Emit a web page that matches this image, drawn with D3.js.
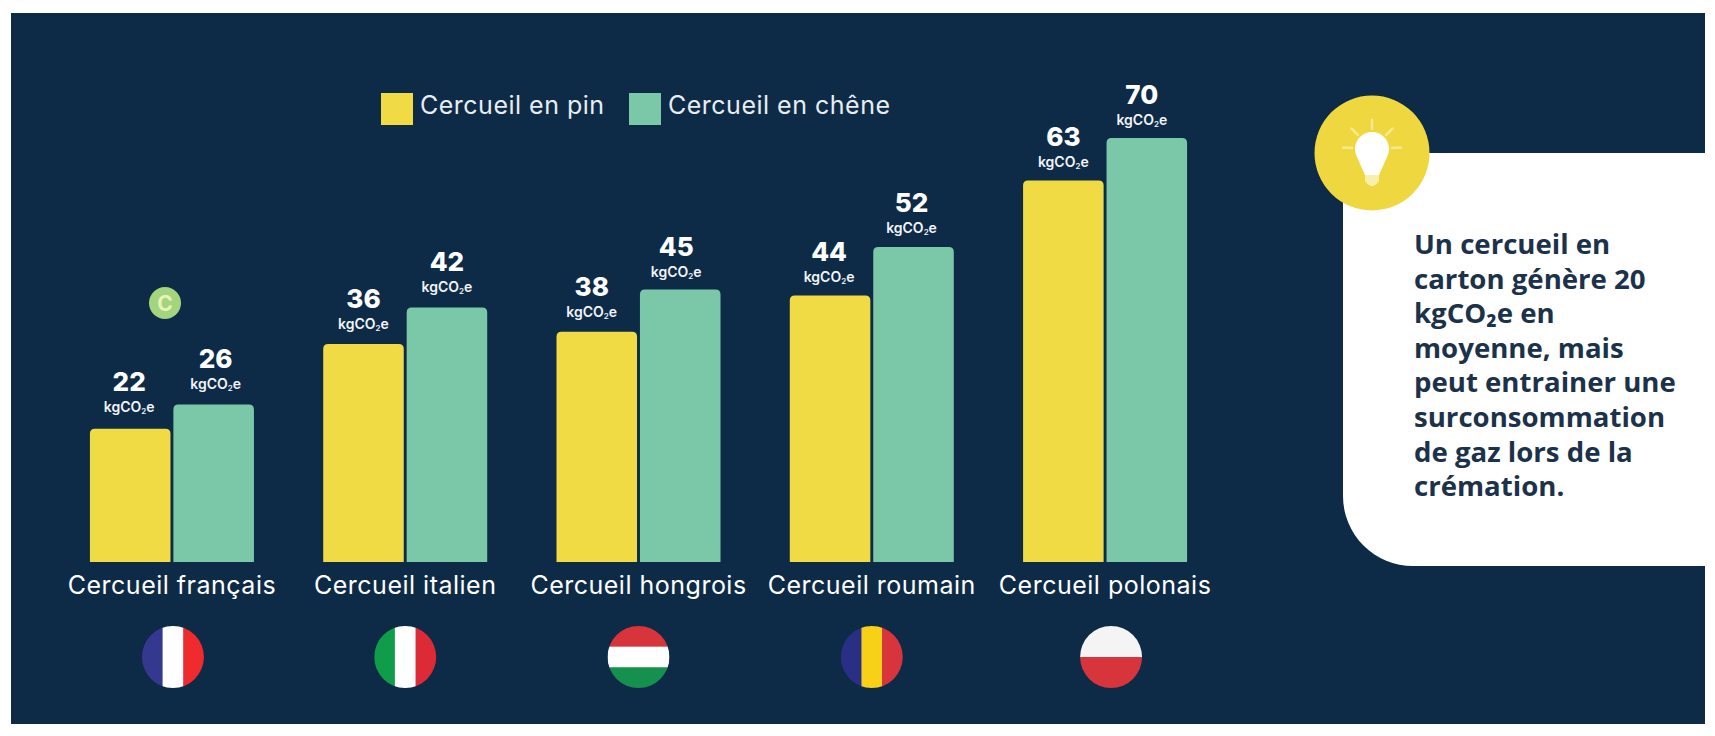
<!DOCTYPE html>
<html>
<head>
<meta charset="utf-8">
<script src="https://cdn.jsdelivr.net/npm/d3@7"></script>
<style>
  html, body { margin: 0; padding: 0; background: #fff; }
  text { font-family: Inter, sans-serif; }
</style>
</head>
<body>
<div id="chart"></div>
<script>
// values in kgCO2e
// off = hand nudges of the value labels [dx, dy], flagDx = nudge of the flag
var data = [
  { label: 'Cercueil français', pin: 22, chene: 26, off: { pin: [-1, -1], chene: [2, 0] }, flagDx: 1,
    flag: { dir: 'v', colors: ['#35388f', '#ffffff', '#ef2b2d'] } },
  { label: 'Cercueil italien', pin: 36, chene: 42, off: { pin: [0, 1], chene: [0, 0] }, flagDx: 0,
    flag: { dir: 'v', colors: ['#0f9d4a', '#ffffff', '#dc2b36'] } },
  { label: 'Cercueil hongrois', pin: 38, chene: 45, off: { pin: [-5, 1], chene: [-4, 4] }, flagDx: 0,
    flag: { dir: 'h', colors: ['#d8343c', '#ffffff', '#15904f'] } },
  { label: 'Cercueil roumain', pin: 44, chene: 52, off: { pin: [-1, 3], chene: [-2, 2] }, flagDx: 0,
    flag: { dir: 'v', colors: ['#2a2f86', '#f7d117', '#d8343c'] } },
  { label: 'Cercueil polonais', pin: 63, chene: 70, off: { pin: [0, 3], chene: [-5, 3] }, flagDx: 6,
    flag: { dir: 'h', colors: ['#f4f4f4', '#d8343c'] } }
];

var keys = ['pin', 'chene'];
var colors = { pin: '#f1db45', chene: '#7bc8a9' };
var navy = '#0d2b47';

var svg = d3.select('#chart').append('svg')
  .attr('width', 1715)
  .attr('height', 736)
  .style('display', 'block');

svg.append('rect').attr('x', 11).attr('y', 13).attr('width', 1694).attr('height', 711).attr('fill', navy);

var x0 = d3.scaleBand()
  .domain(data.map(d => d.label))
  .range([55.4, 1221.6])
  .paddingInner(0.297)
  .paddingOuter(0.148);

var x1 = d3.scaleBand()
  .domain(keys)
  .range([0, x0.bandwidth()])
  .paddingInner(0.035);

var y = d3.scaleLinear().domain([0, 70]).range([562, 138]);

function topRounded(x, yTop, w, yBase, r) {
  var p = d3.path();
  p.moveTo(x, yBase);
  p.lineTo(x, yTop + r);
  p.quadraticCurveTo(x, yTop, x + r, yTop);
  p.lineTo(x + w - r, yTop);
  p.quadraticCurveTo(x + w, yTop, x + w, yTop + r);
  p.lineTo(x + w, yBase);
  p.closePath();
  return p.toString();
}

var groups = svg.selectAll('.group')
  .data(data)
  .enter()
  .append('g')
  .attr('class', 'group')
  .attr('transform', d => `translate(${x0(d.label)},0)`);

keys.forEach(function(k) {
  groups.append('path')
    .attr('d', d => topRounded(x1(k), y(d[k]), x1.bandwidth(), y(0), 5))
    .attr('fill', colors[k]);

  groups.append('text')
    .attr('x', d => x1(k) + x1.bandwidth() / 2 + d.off[k][0])
    .attr('y', d => y(d[k]) - 37 + d.off[k][1])
    .attr('text-anchor', 'middle')
    .attr('fill', '#fff')
    .attr('font-size', 26)
    .attr('font-weight', 800)
    .text(d => d[k]);

  var unit = groups.append('text')
    .attr('x', d => x1(k) + x1.bandwidth() / 2 + d.off[k][0])
    .attr('y', d => y(d[k]) - 16 + d.off[k][1])
    .attr('text-anchor', 'middle')
    .attr('fill', '#f2f4f7')
    .attr('font-size', 14)
    .attr('font-weight', 600);
  unit.append('tspan').text('kgCO');
  unit.append('tspan').attr('font-size', 8).attr('dy', 2).text('2');
  unit.append('tspan').attr('dy', -2).text('e');
});

// country names under the bars
groups.append('text')
  .attr('x', x0.bandwidth() / 2)
  .attr('y', 594)
  .attr('text-anchor', 'middle')
  .attr('fill', '#fff')
  .attr('font-size', 25)
  .attr('letter-spacing', 0.5)
  .text(d => d.label);

// round flags
var flagR = 31, flagY = 657;
var defs = svg.append('defs');
defs.append('clipPath').attr('id', 'flagclip')
  .append('circle').attr('r', flagR);

var flags = groups.append('g')
  .attr('transform', d => `translate(${x0.bandwidth() / 2 + d.flagDx},${flagY})`)
  .attr('clip-path', 'url(#flagclip)');

flags.each(function(d) {
  var n = d.flag.colors.length;
  var s = d3.scaleBand().domain(d3.range(n)).range([-flagR, flagR]);
  d3.select(this).selectAll('rect')
    .data(d.flag.colors)
    .enter()
    .append('rect')
    .attr('x', (c, i) => d.flag.dir == 'v' ? s(i) : -flagR)
    .attr('y', (c, i) => d.flag.dir == 'h' ? s(i) : -flagR)
    .attr('width', d.flag.dir == 'v' ? s.bandwidth() + 0.5 : flagR * 2)
    .attr('height', d.flag.dir == 'h' ? s.bandwidth() + 0.5 : flagR * 2)
    .attr('fill', c => c);
});

// C badge above the french bars
svg.append('circle').attr('cx', 165).attr('cy', 303).attr('r', 16).attr('fill', '#a3d47e');
svg.append('text').attr('x', 165).attr('y', 311).attr('text-anchor', 'middle')
  .attr('fill', '#e8f3b8').attr('font-size', 21).attr('font-weight', 700).text('C');

// legend
var legend = [
  { key: 'pin', label: 'Cercueil en pin', x: 381 },
  { key: 'chene', label: 'Cercueil en chêne', x: 629 }
];
var lg = svg.selectAll('.legend').data(legend).enter().append('g').attr('class', 'legend');
lg.append('rect').attr('x', d => d.x).attr('y', 93).attr('width', 32).attr('height', 32).attr('fill', d => colors[d.key]);
lg.append('text').attr('x', d => d.x + 39).attr('y', 114)
  .attr('fill', '#e8edf2').attr('font-size', 25).attr('letter-spacing', 0.5).text(d => d.label);

// callout card on the right
var card = d3.path();
card.moveTo(1705, 153);
card.lineTo(1343, 153);
card.lineTo(1343, 496);
card.arcTo(1343, 566, 1413, 566, 70);
card.lineTo(1705, 566);
card.closePath();
svg.append('path').attr('d', card.toString()).attr('fill', '#fff');

var lines = ['Un cercueil en', 'carton génère 20', 'kgCO₂e en', 'moyenne, mais', 'peut entrainer une', 'surconsommation', 'de gaz lors de la', 'crémation.'];
svg.append('g').selectAll('text')
  .data(lines)
  .enter()
  .append('text')
  .attr('x', 1414)
  .attr('y', (d, i) => 254 + i * 34.6)
  .attr('fill', '#1c324b')
  .attr('font-size', 27.6)
  .attr('font-weight', 700)
  .style('font-family', '"Open Sans", sans-serif')
  .text(d => d);

// light bulb icon
var bulb = svg.append('g').attr('transform', 'translate(1372,153)');
bulb.append('circle').attr('r', 57.5).attr('fill', '#efd83f');
bulb.append('circle').attr('cy', -4).attr('r', 17).attr('fill', '#fff');
bulb.append('path').attr('d', 'M-15,4 L-7,22 L7,22 L15,4 Z').attr('fill', '#fff');
bulb.append('path').attr('d', 'M-7,22 L-7,28 Q0,38 7,28 L7,22 Z').attr('fill', '#f8efa8');
[-90, -45, -135, -3, -177].forEach(function(a) {
  var r = a * Math.PI / 180;
  bulb.append('line')
    .attr('x1', 20 * Math.cos(r)).attr('y1', -4 + 20 * Math.sin(r))
    .attr('x2', 29 * Math.cos(r)).attr('y2', -4 + 29 * Math.sin(r))
    .attr('stroke', '#f6ea8e').attr('stroke-width', 2.5).attr('stroke-linecap', 'round');
});
</script>
</body>
</html>
